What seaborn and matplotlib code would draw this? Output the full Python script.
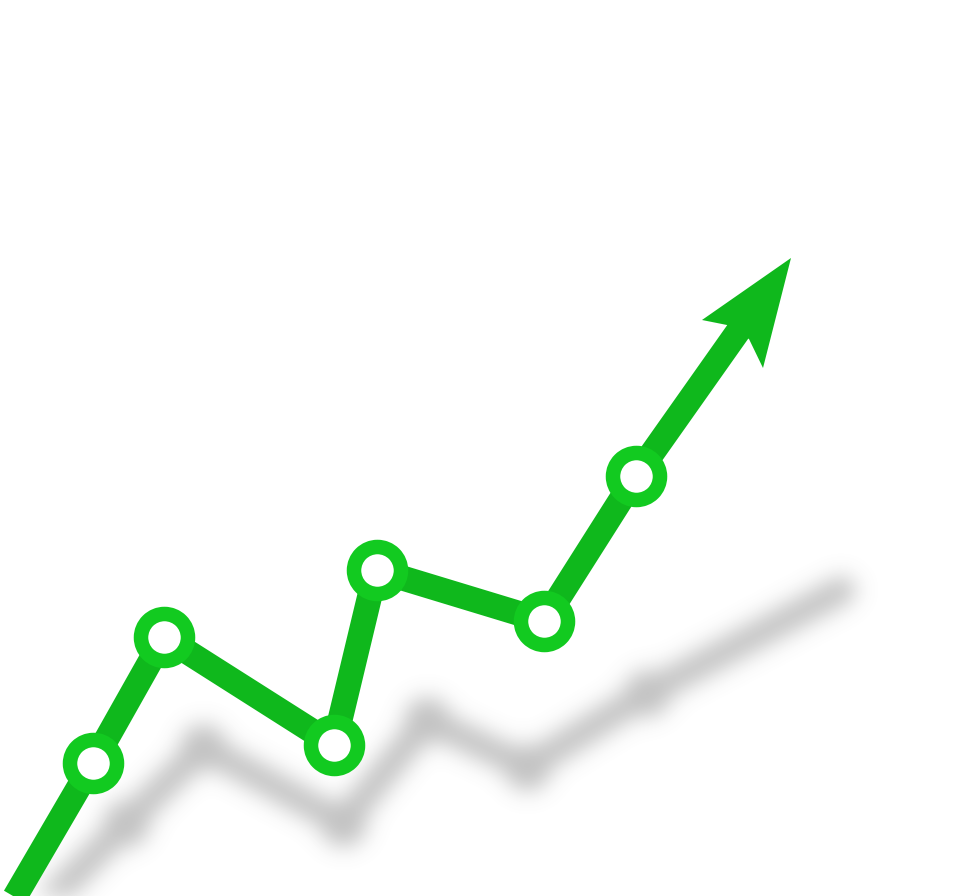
import matplotlib
matplotlib.use("Agg")
import matplotlib.pyplot as plt
import seaborn as sns
import numpy as np
import pandas as pd

# Chart values (x to the right, y upward; canvas units)
line_x = [-8, 93, 164, 334, 376, 544, 636, 744]
line_y = [-40, 133, 259, 151, 326, 275, 420, 573]

point_x = [93, 164, 334, 377, 544, 636]
point_y = [133, 259, 151, 326, 275, 420]

head_x = [791, 763, 749, 727, 702]
head_y = [638, 528, 557, 571, 576]

shadow_x = [20, 126, 203, 343, 427, 527, 647, 842]
shadow_y = [-34, 73, 149, 73, 176, 129, 203, 306]
shadow_pt_x = [126, 203, 343, 427, 527, 647]
shadow_pt_y = [73, 149, 73, 176, 129, 203]

LINE_GREEN = "#0fb81c"
RING_GREEN = "#12ca20"

W, H, DPI = 961, 896, 100
px2pt = 72 / DPI

sns.set_theme(style="white")


def make_axes(fig):
    ax = fig.add_axes([0, 0, 1, 1])
    ax.set_xlim(0, W)
    ax.set_ylim(0, H)
    ax.axis("off")
    return ax


# ---- render the shadow off-screen, then blur it ----
sfig = plt.figure(figsize=(W / DPI, H / DPI), dpi=DPI)
sax = make_axes(sfig)
shadow_df = pd.DataFrame({"x": shadow_x, "y": shadow_y})
shadow_pts = pd.DataFrame({"x": shadow_pt_x, "y": shadow_pt_y})
sns.lineplot(data=shadow_df, x="x", y="y", ax=sax, color="black",
             linewidth=27 * px2pt, sort=False, estimator=None,
             solid_capstyle="round", solid_joinstyle="round", legend=False)
sns.scatterplot(data=shadow_pts, x="x", y="y", ax=sax, color="black",
                s=(46 * px2pt) ** 2, linewidth=0, legend=False)
sfig.canvas.draw()
buf = np.asarray(sfig.canvas.buffer_rgba())[:, :, 0].astype(float)
plt.close(sfig)
dark = 1.0 - buf / 255.0

sigma = 11.0
r = int(3 * sigma)
k = np.exp(-0.5 * (np.arange(-r, r + 1) / sigma) ** 2)
k /= k.sum()
blur = np.apply_along_axis(lambda v: np.convolve(v, k, mode="same"), 0, dark)
blur = np.apply_along_axis(lambda v: np.convolve(v, k, mode="same"), 1, blur)

shadow_rgba = np.zeros((blur.shape[0], blur.shape[1], 4))
shadow_rgba[..., :3] = 0.45
shadow_rgba[..., 3] = np.clip(blur, 0, 1) * 0.44

# ---- main figure ----
fig = plt.figure(figsize=(W / DPI, H / DPI), dpi=DPI)
ax = make_axes(fig)
ax.imshow(shadow_rgba, extent=(0, W, 0, H), origin="upper",
          interpolation="bilinear", aspect="auto", zorder=1)
ax.set_xlim(0, W)
ax.set_ylim(0, H)

line_df = pd.DataFrame({"x": line_x, "y": line_y})
sns.lineplot(data=line_df, x="x", y="y", ax=ax, color=LINE_GREEN,
             linewidth=25 * px2pt, sort=False, estimator=None,
             solid_capstyle="butt", solid_joinstyle="round", legend=False,
             zorder=3)

ax.fill(head_x, head_y, color=LINE_GREEN, linewidth=0, zorder=3)

pt_df = pd.DataFrame({"x": point_x, "y": point_y})
sns.scatterplot(data=pt_df, x="x", y="y", ax=ax, s=(47 * px2pt) ** 2,
                facecolor="white", edgecolor=RING_GREEN,
                linewidth=14.5 * px2pt, legend=False, zorder=4)

ax.set_xlabel("")
ax.set_ylabel("")
fig.savefig("out.png", dpi=DPI, facecolor="white")
